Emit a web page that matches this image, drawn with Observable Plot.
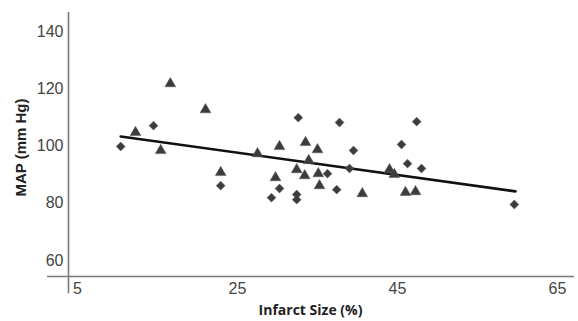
<!DOCTYPE html>
<html>
<head>
<meta charset="utf-8">
<script src="https://cdn.jsdelivr.net/npm/d3@7"></script>
<script src="https://cdn.jsdelivr.net/npm/@observablehq/plot@0.6"></script>
<style>
  html, body { margin: 0; padding: 0; background: #fff; }
  #chart svg { display: block; }
</style>
</head>
<body>
<div id="chart"></div>
<script>
// Triangle group (infarct size %, MAP mm Hg)
const triX = [12.25, 16.6, 15.4, 21.0, 22.9, 27.5, 30.25, 29.75, 33.5, 35.0, 32.4, 33.9, 33.4, 35.1, 35.25, 40.6, 44.0, 44.6, 46.0, 47.25];
const triY = [104.8, 121.9, 98.5, 112.8, 90.8, 97.4, 99.9, 89.0, 101.3, 98.8, 91.8, 95.0, 89.7, 90.4, 86.2, 83.4, 91.8, 90.1, 83.8, 84.1];
// Diamond group
const diaX = [10.4, 14.5, 22.9, 32.6, 30.25, 29.25, 32.4, 32.4, 37.75, 47.4, 39.5, 45.5, 46.25, 48.0, 36.25, 37.4, 39.0, 59.6];
const diaY = [99.9, 107.2, 86.2, 110.0, 85.2, 82.0, 83.1, 81.3, 108.3, 108.6, 98.5, 100.6, 93.9, 92.2, 90.4, 84.8, 92.2, 79.6];
// Fitted regression line endpoints
const fitX = [10.4, 59.75];
const fitY = [103.4, 84.2];
// Ticks and labels
const xTicks = [5, 25, 45, 65];
const yTicks = [60, 80, 100, 120, 140];
const xLabel = "Infarct Size (%)";
const yLabel = "MAP (mm Hg)";

const xDomain = [3.875, 67.125];
const yDomain = [54.4, 146.8];

const tri = triX.map((x, i) => ({x, y: triY[i]}));
const dia = diaX.map((x, i) => ({x, y: diaY[i]}));
const fit = fitX.map((x, i) => ({x, y: fitY[i]}));

const font = "'Liberation Sans', Arial, sans-serif";
const ink = "#3c3c3c";

const chart = Plot.plot({
  width: 578,
  height: 321,
  marginLeft: 68,
  marginRight: 4,
  marginTop: 12,
  marginBottom: 45,
  style: {fontFamily: font, fontSize: "16px", color: "#444", background: "#fff"},
  x: {domain: xDomain},
  y: {domain: yDomain},
  marks: [
    Plot.axisX({ticks: xTicks, tickSize: 0, tickPadding: 6, label: null, fill: "#444"}),
    Plot.axisY({ticks: yTicks, tickSize: 0, tickPadding: 5, label: null, fill: "#444"}),
    Plot.ruleY([yDomain[0]], {x1: 1.25, x2: xDomain[1], stroke: "#7a7a7a", strokeWidth: 1.6}),
    Plot.ruleX([xDomain[0]], {y1: 48.4, y2: yDomain[1], stroke: "#7a7a7a", strokeWidth: 1.6}),
    Plot.line(fit, {x: "x", y: "y", stroke: "#111", strokeWidth: 2.6}),
    Plot.dot(tri, {x: "x", y: "y", symbol: "triangle", r: 4, fill: ink, stroke: "#555", strokeWidth: 0.5}),
    Plot.dot(dia, {x: "x", y: "y", symbol: "diamond2", r: 4, fill: ink, stroke: "#555", strokeWidth: 0.5}),
    Plot.text([xLabel], {frameAnchor: "bottom", textAnchor: "middle", lineAnchor: "middle", dx: -11, dy: 34, fontSize: 14, fontWeight: "bold", fill: "#222", fontFamily: "'Open Sans', sans-serif"}),
    Plot.text([yLabel], {frameAnchor: "left", textAnchor: "middle", lineAnchor: "middle", dx: -47, dy: 3, rotate: -90, fontSize: 15, fontWeight: "bold", fill: "#222", fontFamily: font})
  ]
});
document.getElementById("chart").appendChild(chart);
</script>
</body>
</html>
